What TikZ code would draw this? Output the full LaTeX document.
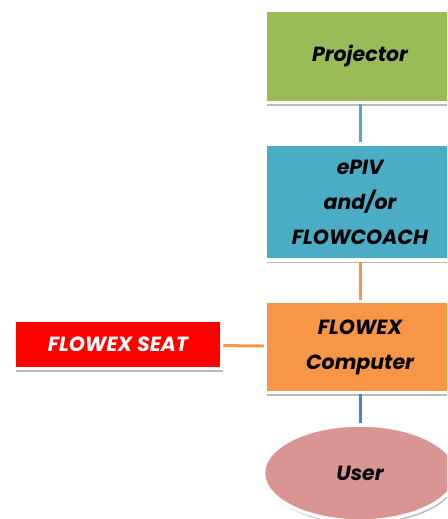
\documentclass[tikz,border=0pt]{standalone}
\usepackage{fontspec}
\setmainfont{Poppins}
\usetikzlibrary{positioning,shapes.geometric,shadows}

\definecolor{projgreen}{HTML}{9BBB59}
\definecolor{epivblue}{HTML}{4BACC6}
\definecolor{comporange}{HTML}{F79646}
\definecolor{userpink}{HTML}{D99594}
\definecolor{userline}{HTML}{4F81BD}

\begin{document}
\begin{tikzpicture}[x=1pt,y=-1pt,node distance=38pt]
      \clip (0,0) rectangle (447,519);
      \begin{scope}[every node/.style={draw=white,line width=3.5pt,minimum width=189pt,align=center,
          font=\fontsize{20.5}{35}\selectfont\bfseries\itshape,
          drop shadow={shadow xshift=1.5pt,shadow yshift=-3pt,opacity=.45,fill=black!60}}]
        \node (proj)[fill=projgreen,minimum height=92pt] at (360,56.5) {Projector};
        \node (epiv)[fill=epivblue,minimum height=116pt] [below=of proj] {ePIV\\and/or\\FLOWCOACH};
        \node (comp)[fill=comporange,minimum height=91pt] [below=of epiv] {FLOWEX\\Computer};
        \node (user)[ellipse,fill=userpink,minimum width=193pt,minimum height=96pt] [below=29pt of comp] {User};
        \node (seat)[fill=red,text=white,minimum width=207pt,minimum height=48pt] at (118,344.5) {FLOWEX SEAT};
      \end{scope}
      \begin{scope}[every path/.style={line width=3pt}]
        \draw[epivblue] (proj) -- (epiv);
        \draw[comporange] (epiv) -- (comp);
        \draw[userline] (comp) -- (user);
        \draw[comporange] (seat) -- (comp);
      \end{scope}
\end{tikzpicture}
\end{document}
